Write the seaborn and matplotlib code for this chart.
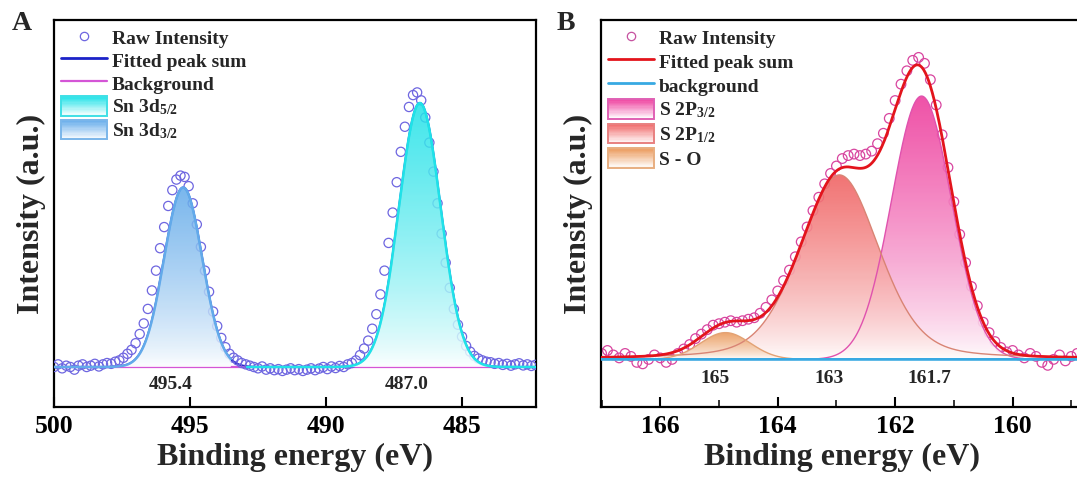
import numpy as np
import matplotlib
matplotlib.use('Agg')
import matplotlib.pyplot as plt
import seaborn as sns
from matplotlib.colors import LinearSegmentedColormap, to_rgb
from matplotlib.patches import Rectangle
from matplotlib.lines import Line2D
from matplotlib.legend_handler import HandlerBase
from matplotlib.ticker import MultipleLocator

sns.set_theme(style='ticks')
plt.rcParams['font.family'] = ['Liberation Serif', 'DejaVu Serif']
plt.rcParams['font.weight'] = 'bold'
plt.rcParams['mathtext.fontset'] = 'custom'
plt.rcParams['mathtext.rm'] = 'Liberation Serif:bold'
plt.rcParams['mathtext.bf'] = 'Liberation Serif:bold'
plt.rcParams['mathtext.default'] = 'bf'

# ---- Panel A: Sn 3d (raw points every 0.15 eV starting at 500 eV) ----
sn_start, sn_step = 500.0, 0.15
sn_raw = [0.000, 0.010, -0.005, 0.005, 0.000, -0.010, 0.005, 0.010, 0.000, 0.005,
          0.012, 0.002, 0.010, 0.015, 0.012, 0.020, 0.025, 0.035, 0.050, 0.065,
          0.090, 0.125, 0.165, 0.220, 0.290, 0.365, 0.450, 0.530, 0.610, 0.670,
          0.710, 0.725, 0.720, 0.685, 0.620, 0.540, 0.455, 0.365, 0.285, 0.210,
          0.155, 0.110, 0.075, 0.050, 0.035, 0.025, 0.015, 0.010, 0.005, 0.000,
          -0.005, 0.002, -0.010, -0.005, -0.012, -0.008, -0.015, -0.010, -0.005, -0.012,
          -0.008, -0.015, -0.010, -0.005, -0.012, -0.006, 0.000, -0.008, 0.002, -0.004,
          0.004, 0.000, 0.010, 0.015, 0.025, 0.045, 0.070, 0.100, 0.145, 0.200,
          0.275, 0.365, 0.470, 0.585, 0.700, 0.815, 0.910, 0.985, 1.030, 1.040,
          1.010, 0.945, 0.850, 0.740, 0.620, 0.505, 0.395, 0.300, 0.220, 0.160,
          0.115, 0.080, 0.058, 0.042, 0.032, 0.025, 0.020, 0.018, 0.012, 0.015,
          0.008, 0.012, 0.005, 0.010, 0.014, 0.006, 0.010, 0.004, 0.008]
sn_names = ['Sn 3d$_{5/2}$', 'Sn 3d$_{3/2}$']
sn_centers = [486.55, 495.25]
sn_heights = [1.0, 0.68]
sn_fwhm = [1.8, 1.65]
sn_ranges = [(492.9, 482.28), (500.0, 493.5)]
sn_colors = ['#1fe2e8', '#62aaea']
sn_labels = ['495.4', '487.0']
sn_label_x = [495.7, 487.05]

# ---- Panel B: S 2p (raw points every 0.1 eV starting at 167 eV) ----
s_start, s_step = 167.0, 0.1
s_raw = [0.020, 0.030, 0.015, 0.005, 0.020, 0.010, -0.010, -0.015, 0.000, 0.015,
         0.005, -0.010, 0.000, 0.020, 0.035, 0.050, 0.070, 0.085, 0.100, 0.115,
         0.120, 0.125, 0.130, 0.125, 0.130, 0.135, 0.140, 0.155, 0.175, 0.200,
         0.230, 0.265, 0.300, 0.345, 0.395, 0.445, 0.500, 0.545, 0.590, 0.625,
         0.650, 0.675, 0.685, 0.690, 0.685, 0.690, 0.700, 0.725, 0.760, 0.810,
         0.870, 0.925, 0.970, 1.005, 1.015, 0.995, 0.940, 0.855, 0.755, 0.645,
         0.530, 0.420, 0.325, 0.245, 0.180, 0.125, 0.090, 0.060, 0.040, 0.025,
         0.030, 0.015, 0.005, 0.020, 0.010, -0.010, -0.020, 0.000, 0.015, -0.005,
         0.010, 0.020]
s_names = ['S 2P$_{3/2}$', 'S 2P$_{1/2}$', 'S - O']
s_centers = [161.55, 162.95, 164.89]
s_heights = [0.885, 0.62, 0.09]
s_fwhm = [1.2, 1.6, 1.0]
s_lorentz = [0.0, 0.3, 0.0]
s_colors = ['#ee3f9e', '#f06464', '#eb9a5c']
s_edges = ['#e052ae', '#d98474', '#e3a274']
s_labels = ['165', '163', '161.7']
s_label_x = [165.06, 163.13, 161.42]


def peak(x, c, h, w, eta=0.0):
    u = (x - c) / w
    return h * ((1 - eta) * np.exp(-4 * np.log(2) * u ** 2) + eta / (1 + 4 * u ** 2))


def gradient_fill(ax, x, y, color, alpha, z):
    poly = ax.fill_between(x, 0, y, facecolor='none', edgecolor='none', zorder=z)
    cmap = LinearSegmentedColormap.from_list('g', ['white', color])
    grad = (np.linspace(0, 1, 256) ** 0.75).reshape(-1, 1)
    im = ax.imshow(grad, cmap=cmap, aspect='auto', origin='lower', alpha=alpha,
                   extent=[x.min(), x.max(), 0, y.max()], zorder=z, vmin=0, vmax=1)
    im.set_clip_path(poly.get_paths()[0], transform=ax.transData)


class GradHandler(HandlerBase):
    def __init__(self, color, edge):
        super().__init__()
        self.color = color
        self.edge = edge

    def create_artists(self, legend, orig_handle, xdescent, ydescent,
                       width, height, fontsize, trans):
        c0 = np.array(to_rgb('white'))
        c1 = np.array(to_rgb(self.color))
        arts = []
        n = 16
        for i in range(n):
            f = (i + 0.5) / n
            arts.append(Rectangle((-xdescent, -ydescent + height * i / n), width, height / n,
                                  facecolor=c0 + (c1 - c0) * f, edgecolor='none', transform=trans))
        arts.append(Rectangle((-xdescent, -ydescent), width, height, facecolor='none',
                              edgecolor=self.edge, lw=1.4, transform=trans))
        return arts


def style_axes(ax):
    for sp in ax.spines.values():
        sp.set_linewidth(1.6)
        sp.set_color('black')
    ax.tick_params(axis='x', which='major', direction='in', length=7, width=1.5,
                   labelsize=18.5, pad=6, colors='black')
    ax.tick_params(axis='x', which='minor', direction='in', length=5, width=1.3)
    ax.tick_params(axis='y', which='both', left=False, labelleft=False)
    ax.set_xlabel('Binding energy (eV)', fontsize=23, fontweight='bold', labelpad=3)
    ax.set_ylabel('Intensity (a.u.)', fontsize=23, fontweight='bold', labelpad=6)
    ax.grid(False)


fig = plt.figure(figsize=(10.77, 4.86), dpi=100)
W, H = 1077, 486
axA = fig.add_axes([54 / W, 1 - 407 / H, (536 - 54) / W, (407 - 20.5) / H])
axB = fig.add_axes([601 / W, 1 - 407 / H, (1083 - 601) / W, (407 - 20.5) / H])

# ---------------- Panel A ----------------
ax = axA
sn_x = np.round(sn_start - sn_step * np.arange(len(sn_raw)), 2)
xx = np.linspace(500.0, 482.28, 1200)
fit_sum = sum(peak(xx, c, h, w) for c, h, w in zip(sn_centers, sn_heights, sn_fwhm))
sns.lineplot(x=xx, y=fit_sum, ax=ax, color='#1c22c8', linewidth=1.5, zorder=2, legend=False)
sns.lineplot(x=xx, y=np.zeros_like(xx), ax=ax, color='#d455d6', linewidth=1.6, zorder=2.5, legend=False)
sns.scatterplot(x=sn_x, y=sn_raw, ax=ax, marker='o', s=44, facecolor='none',
                edgecolor='#6e66e0', linewidth=0.9, zorder=3, legend=False)
for c, h, w, rng, col in zip(sn_centers, sn_heights, sn_fwhm, sn_ranges, sn_colors):
    xc = np.linspace(rng[1], rng[0], 600)
    yc = peak(xc, c, h, w)
    gradient_fill(ax, xc, yc, col, 0.85, 4)
    sns.lineplot(x=xc, y=yc, ax=ax, color=col, linewidth=1.8, zorder=5, legend=False)
for lab, lx in zip(sn_labels, sn_label_x):
    ax.text(lx, -0.068, lab, ha='center', va='center', fontsize=14, fontweight='bold')
ax.set_xlim(500, 482.28)
ax.set_ylim(-0.1515, 1.3125)
ax.xaxis.set_major_locator(MultipleLocator(5))
style_axes(ax)

handles = [Line2D([], [], marker='o', ls='none', mfc='none', mec='#6e66e0', ms=6, mew=0.9),
           Line2D([], [], color='#1c22c8', lw=2),
           Line2D([], [], color='#d455d6', lw=1.6),
           Rectangle((0, 0), 1, 1), Rectangle((0, 0), 1, 1)]
labels = ['Raw Intensity', 'Fitted peak sum', 'Background'] + sn_names
hmap = {handles[3]: GradHandler(sn_colors[0], '#3fe0e6'),
        handles[4]: GradHandler(sn_colors[1], '#7ab6ea')}
ax.legend(handles=handles, labels=labels, handler_map=hmap, loc='upper left',
          bbox_to_anchor=(0, 1), borderaxespad=0, borderpad=0.35, frameon=False,
          prop={'size': 14, 'weight': 'bold'}, handlelength=2.36, handleheight=1.18,
          handletextpad=0.26, labelspacing=0.13)

# ---------------- Panel B ----------------
ax = axB
s_x = np.round(s_start - s_step * np.arange(len(s_raw)), 2)
xx = np.linspace(167.01, 158.8, 1200)
comps = [peak(xx, c, h, w, e) for c, h, w, e in zip(s_centers, s_heights, s_fwhm, s_lorentz)]
sns.scatterplot(x=s_x, y=s_raw, ax=ax, marker='o', s=48, facecolor='none',
                edgecolor='#d8459f', linewidth=0.9, zorder=2, legend=False)
for yc, col, ed in zip(comps, s_colors, s_edges):
    gradient_fill(ax, xx, yc, col, 0.9, 3)
    sns.lineplot(x=xx, y=yc, ax=ax, color=ed, linewidth=1.0, zorder=4, legend=False)
sns.lineplot(x=xx, y=sum(comps), ax=ax, color='#e3141c', linewidth=2.0, zorder=5, legend=False)
sns.lineplot(x=xx, y=np.zeros_like(xx), ax=ax, color='#38a9e2', linewidth=2.0, zorder=6, legend=False)
for lab, lx in zip(s_labels, s_label_x):
    ax.text(lx, -0.064, lab, ha='center', va='center', fontsize=14, fontweight='bold')
ax.set_xlim(167.01, 158.8)
ax.set_ylim(-0.16, 1.139)
ax.xaxis.set_major_locator(MultipleLocator(2))
ax.xaxis.set_minor_locator(MultipleLocator(1))
style_axes(ax)

handles = [Line2D([], [], marker='o', ls='none', mfc='none', mec='#c652a0', ms=6, mew=0.9),
           Line2D([], [], color='#e3141c', lw=2),
           Line2D([], [], color='#38a9e2', lw=2),
           Rectangle((0, 0), 1, 1), Rectangle((0, 0), 1, 1), Rectangle((0, 0), 1, 1)]
labels = ['Raw Intensity', 'Fitted peak sum', 'background'] + s_names
hmap = {handles[3]: GradHandler(s_colors[0], '#e060b4'),
        handles[4]: GradHandler(s_colors[1], '#e88080'),
        handles[5]: GradHandler(s_colors[2], '#e8ae80')}
ax.legend(handles=handles, labels=labels, handler_map=hmap, loc='upper left',
          bbox_to_anchor=(0, 1), borderaxespad=0, borderpad=0.35, frameon=False,
          prop={'size': 14, 'weight': 'bold'}, handlelength=2.36, handleheight=1.18,
          handletextpad=0.26, labelspacing=0.18)

fig.text(22 / W, 1 - 23 / H, 'A', ha='center', va='center', fontsize=20, fontweight='bold')
fig.text(566 / W, 1 - 23 / H, 'B', ha='center', va='center', fontsize=20, fontweight='bold')

fig.savefig('out.png', dpi=100)
